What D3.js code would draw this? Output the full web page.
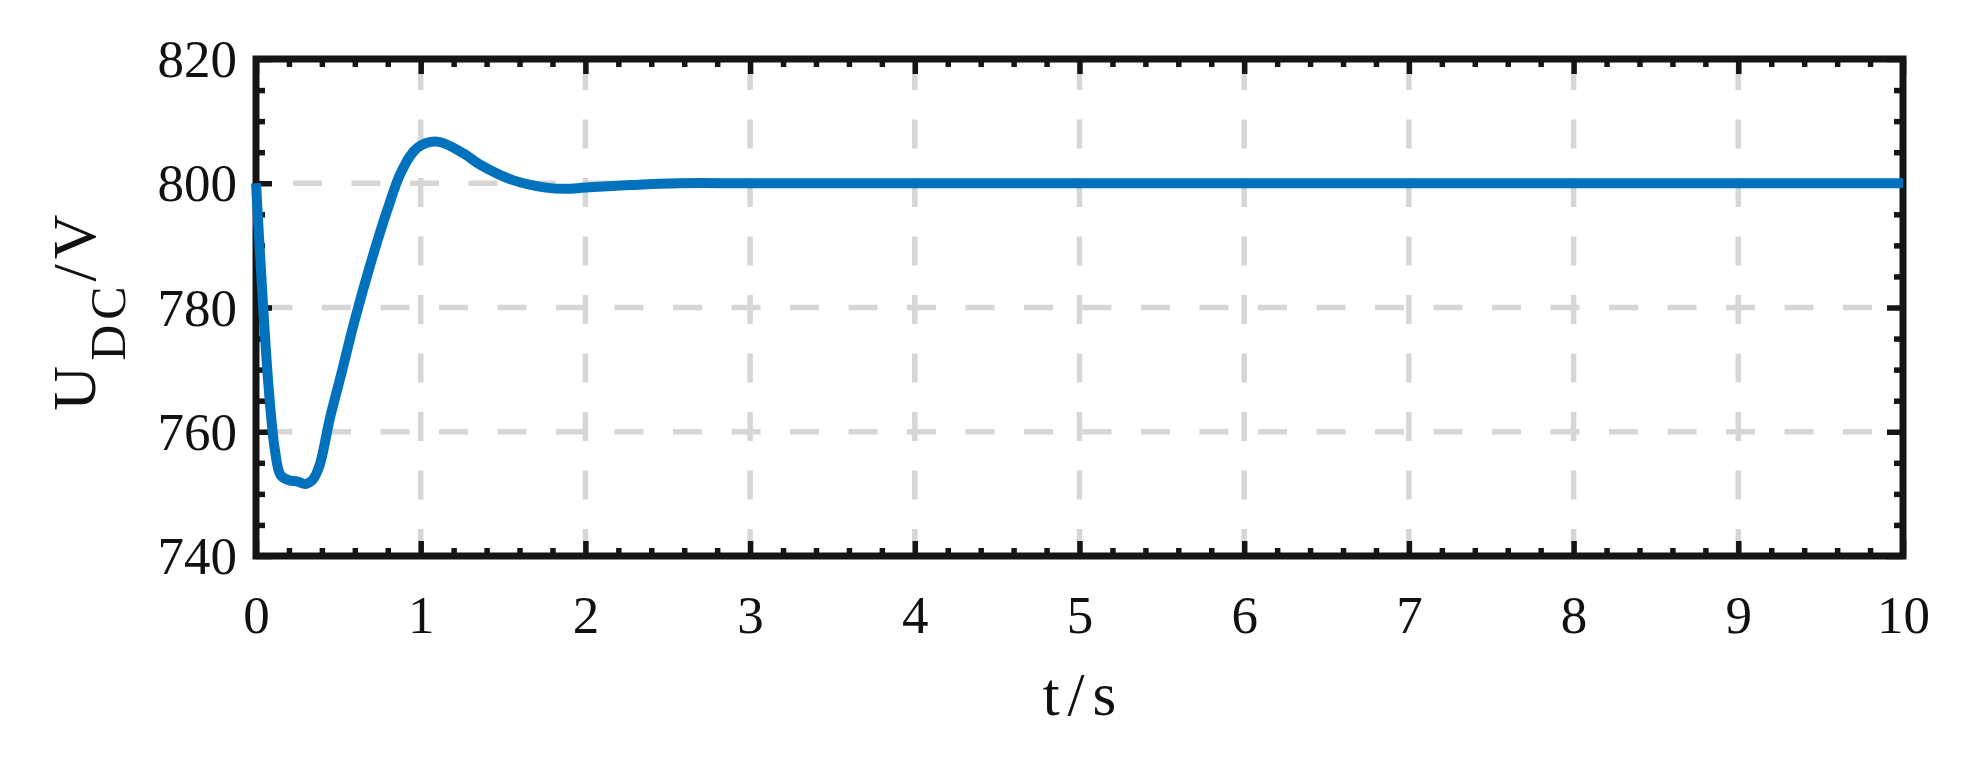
<!DOCTYPE html>
<html>
<head>
<meta charset="utf-8">
<script src="https://cdn.jsdelivr.net/npm/d3@7"></script>
<style>
  body { margin: 0; background: #fff; }
  svg { display: block; font-family: 'Liberation Serif', 'Times New Roman', serif; }
</style>
</head>
<body>
<svg width="1968" height="764"></svg>
<script>
// DC link voltage response
var time = [0, 0.035, 0.075, 0.115, 0.15, 0.2, 0.25, 0.3, 0.345, 0.385, 0.45, 0.515, 0.595, 0.695, 0.795,
  0.885, 0.98, 1.1, 1.26, 1.36, 1.56, 1.76, 1.88, 2.0, 2.27, 2.57, 3, 4, 5, 6, 7, 8, 9, 10];
var voltage = [800, 783.8, 767.7, 757, 753, 752.2, 752, 751.6, 752.3, 754.5, 762.3, 769, 777.5, 787, 795.5,
  802, 805.7, 806.7, 804.8, 803, 800.5, 799.3, 799.1, 799.3, 799.7, 800, 800, 800, 800, 800, 800, 800, 800, 800];
var xTicks = [0, 1, 2, 3, 4, 5, 6, 7, 8, 9, 10];
var yTicks = [740, 760, 780, 800, 820];

var svg = d3.select('svg');
var margin = {top: 59, right: 65, bottom: 208, left: 256};
var width = 1968 - margin.left - margin.right;
var height = 764 - margin.top - margin.bottom;
var g = svg
  .append('g')
  .attr('transform', 'translate(' + margin.left + ',' + margin.top + ')');

var x = d3.scaleLinear().domain([0, 10]).range([0, width]);
var y = d3.scaleLinear().domain([740, 820]).range([height, 0]);

var ink = '#151515';
var xMinor = d3.range(0, 50).map(function(i) { return i / 5; }).filter(function(d, i) { return i % 5 !== 0; });
var yMinor = d3.range(0, 16).map(function(i) { return 740 + i * 5; }).filter(function(d, i) { return i % 4 !== 0; });

// dashed grid
g.append('g')
  .selectAll('line')
  .data(xTicks.slice(1, -1))
  .enter()
  .append('line')
  .attr('x1', function(d) { return x(d); })
  .attr('x2', function(d) { return x(d); })
  .attr('y1', 0)
  .attr('y2', height)
  .attr('stroke', '#d6d6d6')
  .attr('stroke-width', 5.5)
  .attr('stroke-dasharray', '29,29.5')
  .attr('stroke-dashoffset', 56.5);
g.append('g')
  .selectAll('line')
  .data(yTicks.slice(1, -1))
  .enter()
  .append('line')
  .attr('x1', 0)
  .attr('x2', width)
  .attr('y1', function(d) { return y(d); })
  .attr('y2', function(d) { return y(d); })
  .attr('stroke', '#d6d6d6')
  .attr('stroke-width', 5.5)
  .attr('stroke-dasharray', '29,29.5')
  .attr('stroke-dashoffset', function(d) { return d === 800 ? 21.5 : 51; });

function addAxis(axis, transform) {
  var a = g.append('g').attr('transform', transform).call(axis);
  a.select('.domain').remove();
  a.selectAll('line').attr('stroke', ink).attr('stroke-width', 5.5);
  a.attr('font-family', null).attr('font-size', 53);
  a.selectAll('text').attr('fill', '#111');
  return a;
}

// major ticks with labels
var bottom = addAxis(d3.axisBottom(x).tickValues(xTicks).tickSize(-15).tickFormat(d3.format('d')),
  'translate(0,' + height + ')');
bottom.selectAll('text').attr('y', 77).attr('dy', null);
addAxis(d3.axisLeft(y).tickValues(yTicks).tickSize(-16).tickPadding(19).tickFormat(d3.format('d')),
  'translate(0,0)').selectAll('text').attr('dy', '0.33em');
addAxis(d3.axisTop(x).tickValues(xTicks).tickSize(-15).tickFormat(''), 'translate(0,0)');
addAxis(d3.axisRight(y).tickValues(yTicks).tickSize(-16).tickFormat(''), 'translate(' + width + ',0)');

// minor ticks
addAxis(d3.axisBottom(x).tickValues(xMinor).tickSize(-8).tickFormat(''), 'translate(0,' + height + ')');
addAxis(d3.axisTop(x).tickValues(xMinor).tickSize(-8).tickFormat(''), 'translate(0,0)');
addAxis(d3.axisLeft(y).tickValues(yMinor).tickSize(-9).tickFormat(''), 'translate(0,0)');
addAxis(d3.axisRight(y).tickValues(yMinor).tickSize(-9).tickFormat(''), 'translate(' + width + ',0)');

// box
g.append('rect')
  .attr('width', width)
  .attr('height', height)
  .attr('fill', 'none')
  .attr('stroke', ink)
  .attr('stroke-width', 7);

var line = d3
  .line()
  .curve(d3.curveCatmullRom.alpha(0.5))
  .x(function(d, i) { return x(time[i]); })
  .y(function(d) { return y(d); });

g.append('path')
  .datum(voltage)
  .attr('d', line)
  .attr('fill', 'none')
  .attr('stroke', '#0072bd')
  .attr('stroke-width', 10)
  .attr('stroke-linejoin', 'round');

// axis titles
var yLabel = svg.append('text')
  .attr('transform', 'translate(95,310) rotate(-90)')
  .attr('text-anchor', 'middle')
  .attr('font-size', 62)
  .attr('letter-spacing', 5)
  .attr('fill', '#111');
yLabel.append('tspan').text('U');
yLabel.append('tspan').attr('font-size', 50).attr('dy', 30).text('DC');
yLabel.append('tspan').attr('dy', -30).text('/V');

svg.append('text')
  .attr('x', margin.left + width / 2 + 4)
  .attr('y', 715)
  .attr('text-anchor', 'middle')
  .attr('font-size', 61)
  .attr('letter-spacing', 8)
  .attr('fill', '#111')
  .text('t/s');
</script>
</body>
</html>
